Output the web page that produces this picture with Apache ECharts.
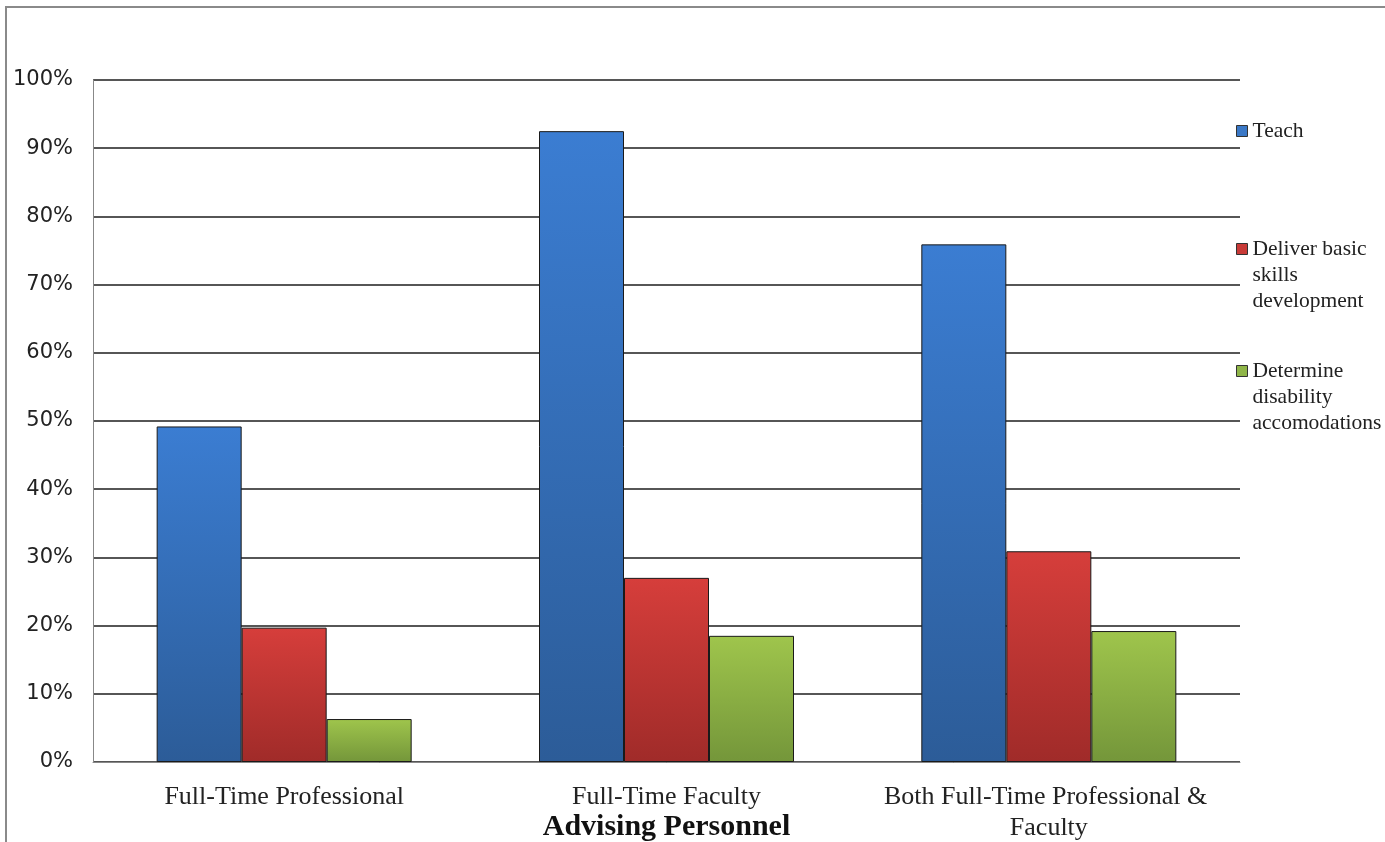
<!DOCTYPE html>
<html>
<head>
<meta charset="utf-8">
<script src="https://cdn.jsdelivr.net/npm/echarts@6/dist/echarts.min.js"></script>
<style>html,body{margin:0;padding:0;background:#fff}#c{width:1385px;height:842px}</style>
</head>
<body>
<div id="c"></div>
<script>
const categories = ['Full-Time Professional', 'Full-Time Faculty', 'Both Full-Time Professional & Faculty'];
const teach = [49.2, 92.5, 75.9];
const deliver = [19.7, 27.0, 30.9];
const determine = [6.3, 18.5, 19.2];
const seriesNames = ['Teach', 'Deliver basic skills development', 'Determine disability accomodations'];
const legendLabels = ['Teach', '\n\nDeliver basic\nskills\ndevelopment', '\n\nDetermine\ndisability\naccomodations'];
const xAxisName = 'Advising Personnel';

const chart = echarts.init(document.getElementById('c'));
function grad(top, bottom) {
  return new echarts.graphic.LinearGradient(0, 0, 0, 1, [
    {offset: 0, color: top}, {offset: 1, color: bottom}
  ]);
}
const fills = [grad('#3b7dd2', '#2c5c98'), grad('#d63e3b', '#a02b29'), grad('#9fc54c', '#74963a')];
const iconColors = ['#3a78c6', '#c83a37', '#8fb548'];
const values = [teach, deliver, determine];
const serif = '"Liberation Serif", "Times New Roman", serif';
const lh = 26;
const legendTops = [118, 184, 306];
const legends = seriesNames.map((n, i) => ({
  data: [{name: n, itemStyle: {color: iconColors[i], borderColor: '#333', borderWidth: 1}}],
  left: 1236, top: legendTops[i], orient: 'vertical', padding: 0,
  itemWidth: 11, itemHeight: 11, itemGap: 0, icon: 'rect',
  selectedMode: false,
  formatter: () => legendLabels[i],
  textStyle: {fontFamily: serif, fontSize: 21.5, color: '#222', lineHeight: lh}
}));

chart.setOption({
  animation: false,
  backgroundColor: '#fff',
  grid: {left: 93, right: 145, top: 80, bottom: 80, containLabel: false, outerBoundsMode: 'none'},
  legend: legends,
  xAxis: {
    type: 'category', data: categories,
    name: xAxisName, nameLocation: 'middle', nameGap: 50, nameMoveOverlap: false,
    nameTextStyle: {fontFamily: serif, fontSize: 30, fontWeight: 'bold', color: '#111'},
    axisLine: {lineStyle: {color: '#888', width: 1}},
    axisTick: {show: false},
    axisLabel: {fontFamily: serif, fontSize: 26, color: '#222', margin: 20, lineHeight: 31,
      width: 345, overflow: 'break', interval: 0}
  },
  yAxis: {
    type: 'value', min: 0, max: 100, interval: 10,
    axisLine: {show: true, lineStyle: {color: '#888', width: 1}},
    axisTick: {show: false},
    splitLine: {lineStyle: {color: '#1e1e1e', width: 1.6}},
    axisLabel: {formatter: '{value}%', fontFamily: '"DejaVu Sans", sans-serif', fontSize: 21, color: '#222', margin: 20}
  },
  series: values.map((v, i) => ({
    name: seriesNames[i], type: 'bar', data: v,
    barWidth: 85, barGap: '0%',
    itemStyle: {color: fills[i], borderColor: '#1a1a1a', borderWidth: 1}
  })),
  graphic: [{
    type: 'polyline', silent: true,
    shape: {points: [[6, 842], [6, 7], [1385, 7]]},
    style: {stroke: '#8a8a8a', lineWidth: 2, fill: null}
  }]
});
</script>
</body>
</html>
